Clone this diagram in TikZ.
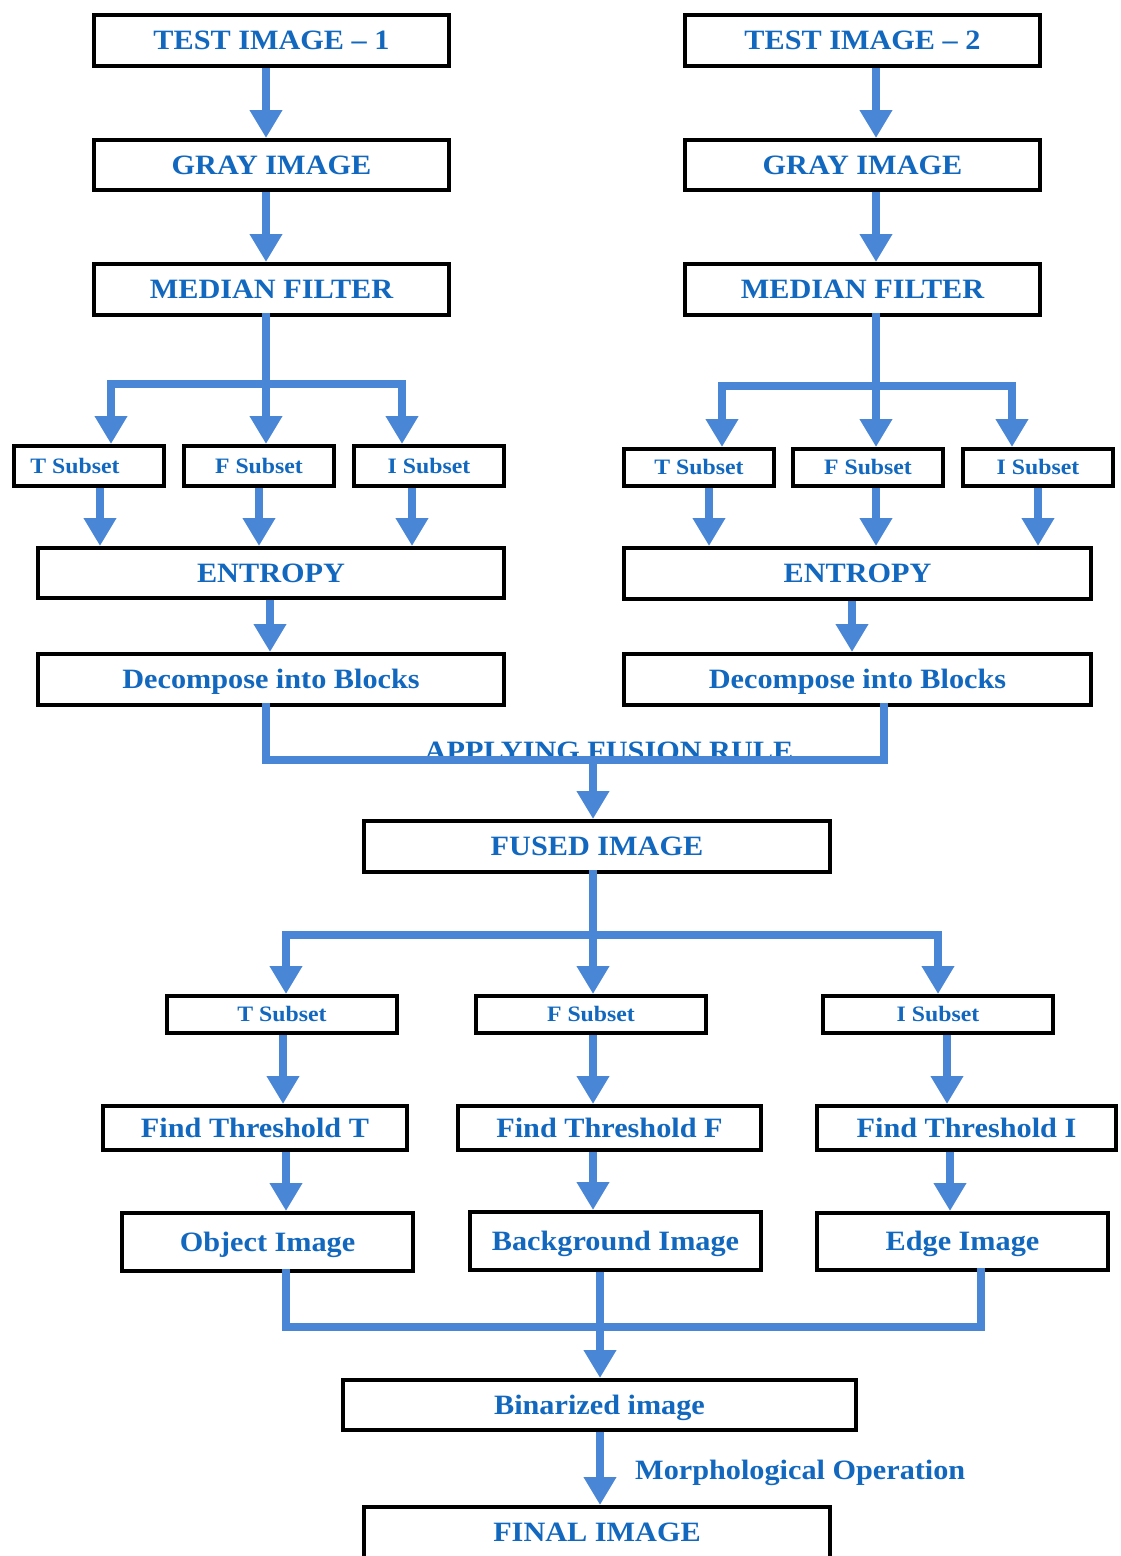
\documentclass[tikz,border=0pt]{standalone}
\usepackage{fontspec}
\setmainfont{Liberation Serif}[FakeStretch=1.08]
\usetikzlibrary{arrows.meta}
\definecolor{tblue}{RGB}{18,104,190}
\definecolor{ablue}{RGB}{74,134,214}
\tikzset{
  box/.style={draw=black, line width=4pt, fill=white, inner sep=0pt, text=tblue,
    text height=18.5pt, text depth=0pt,
    font=\fontsize{28}{30}\selectfont\bfseries},
  sbox/.style={box, text height=14.5pt, font=\fontsize{22}{24}\selectfont\bfseries},
  arr/.style={draw=ablue, line width=8pt, line join=miter, -{Triangle[width=31pt,length=28pt]}},
  bar/.style={draw=ablue, line width=8pt, line join=miter, line cap=rect},
  lbl/.style={text=tblue, inner sep=0pt, text height=18.5pt, text depth=0pt,
    font=\fontsize{28}{30}\selectfont\bfseries}
}
\begin{document}
\begin{tikzpicture}[x=1pt,y=-1pt]
\path[use as bounding box] (0,0) rectangle (1120,1556);
\clip (0,0) rectangle (1120,1556);
% left column
\node[box, minimum width=355, minimum height=51] (t1) at (271.5,40.5) {TEST IMAGE – 1};
\node[box, minimum width=355, minimum height=50] (g1) at (271.5,165) {GRAY IMAGE};
\node[box, minimum width=355, minimum height=51] (m1) at (271.5,289.5) {MEDIAN FILTER};
% right column
\node[box, minimum width=355, minimum height=51] (t2) at (862.5,40.5) {TEST IMAGE – 2};
\node[box, minimum width=355, minimum height=50] (g2) at (862.5,165) {GRAY IMAGE};
\node[box, minimum width=355, minimum height=51] (m2) at (862.5,289.5) {MEDIAN FILTER};
% left subsets
\node[sbox, minimum width=150, minimum height=40] (ls1) at (89,466) {\hspace*{-28pt}T Subset};
\node[sbox, minimum width=150, minimum height=40] (lf1) at (259,466) {F Subset};
\node[sbox, minimum width=150, minimum height=40] (li1) at (429,466) {I Subset};
% right subsets
\node[sbox, minimum width=150, minimum height=37] (rt1) at (699,467.5) {T Subset};
\node[sbox, minimum width=150, minimum height=37] (rf1) at (868,467.5) {F Subset};
\node[sbox, minimum width=150, minimum height=37] (ri1) at (1038,467.5) {I Subset};
% entropy & decompose
\node[box, minimum width=466, minimum height=50] (e1) at (271,573) {ENTROPY};
\node[box, minimum width=467, minimum height=51] (e2) at (857.5,573.5) {ENTROPY};
\node[box, minimum width=466, minimum height=51] (d1) at (271,679.5) {Decompose into Blocks};
\node[box, minimum width=467, minimum height=51] (d2) at (857.5,679.5) {Decompose into Blocks};
% fused
\node[box, minimum width=466, minimum height=51] (fu) at (597,846.5) {FUSED IMAGE};
% lower subsets
\node[sbox, minimum width=230, minimum height=37] (bt) at (282,1014.5) {T Subset};
\node[sbox, minimum width=230, minimum height=37] (bf) at (591,1014.5) {F Subset};
\node[sbox, minimum width=230, minimum height=37] (bi) at (938,1014.5) {I Subset};
% thresholds
\node[box, minimum width=304, minimum height=44] (fT) at (255,1128) {Find Threshold T};
\node[box, minimum width=303, minimum height=44] (fF) at (609.5,1128) {Find Threshold F};
\node[box, minimum width=299, minimum height=44] (fI) at (966.5,1128) {Find Threshold I};
% images
\node[box, minimum width=291, minimum height=58] (oT) at (267.5,1242) {Object Image};
\node[box, minimum width=291, minimum height=58] (oF) at (615.5,1241) {Background Image};
\node[box, minimum width=291, minimum height=57] (oI) at (962.5,1241.5) {Edge Image};
% binarized & final
\node[box, minimum width=513, minimum height=50] (bin) at (599.5,1405) {Binarized image};
\node[box, minimum width=466, minimum height=51] (fin) at (597,1532.5) {FINAL IMAGE};
% labels
\node[lbl] (fr) at (609,751) {APPLYING FUSION RULE};
\node[lbl, anchor=west] (mo) at (635,1470) {Morphological Operation};

% top arrows
\draw[arr] ([xshift=-5.5pt]t1.south) -- ([xshift=-5.5pt]g1.north);
\draw[arr] ([xshift=-5.5pt]g1.south) -- ([xshift=-5.5pt]m1.north);
\draw[arr] ([xshift=13.5pt]t2.south) -- ([xshift=13.5pt]g2.north);
\draw[arr] ([xshift=13.5pt]g2.south) -- ([xshift=13.5pt]m2.north);
% left branch
\coordinate (j1) at (266,384);
\draw[bar] ([xshift=-5.5pt]m1.south) -- (j1);
\draw[arr] (j1) -- ([xshift=7pt]lf1.north);
\draw[arr] (j1) -| ([xshift=22pt]ls1.north);
\draw[arr] (j1) -| ([xshift=-27pt]li1.north);
% right branch
\coordinate (j2) at (876,386);
\draw[bar] ([xshift=13.5pt]m2.south) -- (j2);
\draw[arr] (j2) -- ([xshift=8pt]rf1.north);
\draw[arr] (j2) -| ([xshift=23pt]rt1.north);
\draw[arr] (j2) -| ([xshift=-26pt]ri1.north);
% subsets to entropy
\draw[arr] ([xshift=11pt]ls1.south) -- ([xshift=11pt]ls1.south |- e1.north);
\draw[arr] (lf1.south) -- (lf1.south |- e1.north);
\draw[arr] ([xshift=-17pt]li1.south) -- ([xshift=-17pt]li1.south |- e1.north);
\draw[arr] ([xshift=10pt]rt1.south) -- ([xshift=10pt]rt1.south |- e2.north);
\draw[arr] ([xshift=8pt]rf1.south) -- ([xshift=8pt]rf1.south |- e2.north);
\draw[arr] (ri1.south) -- (ri1.south |- e2.north);
% entropy to decompose
\draw[arr] ([xshift=-1pt]e1.south) -- ([xshift=-1pt]d1.north);
\draw[arr] ([xshift=-5.5pt]e2.south) -- ([xshift=-5.5pt]d2.north);
% fusion
\coordinate (fj) at (593,760);
\draw[bar] ([xshift=-5pt]d1.south) |- ([xshift=26.5pt]d2.south |- fj) -- ([xshift=26.5pt]d2.south);
\draw[arr] (fj) -- ([xshift=-4pt]fu.north);
% fused branch
\coordinate (j3) at (593,935);
\draw[bar] ([xshift=-4pt]fu.south) -- (j3);
\draw[arr] (j3) -- ([xshift=2pt]bf.north);
\draw[arr] (j3) -| ([xshift=4pt]bt.north);
\draw[arr] (j3) -| (bi.north);
% subsets to thresholds
\draw[arr] ([xshift=1pt]bt.south) -- ([xshift=1pt]bt.south |- fT.north);
\draw[arr] ([xshift=2pt]bf.south) -- ([xshift=2pt]bf.south |- fF.north);
\draw[arr] ([xshift=9pt]bi.south) -- ([xshift=9pt]bi.south |- fI.north);
% thresholds to images
\draw[arr] ([xshift=31pt]fT.south) -- ([xshift=31pt]fT.south |- oT.north);
\draw[arr] ([xshift=-16.5pt]fF.south) -- ([xshift=-16.5pt]fF.south |- oF.north);
\draw[arr] ([xshift=-16.5pt]fI.south) -- ([xshift=-16.5pt]fI.south |- oI.north);
% images to binarized
\coordinate (j4) at (600,1327);
\draw[bar] ([xshift=18.5pt]oT.south) |- ([xshift=18.5pt]oI.south |- j4) -- ([xshift=18.5pt]oI.south);
\draw[arr] ([xshift=-15.5pt]oF.south) -- ([xshift=0.5pt]bin.north);
% binarized to final
\draw[arr] ([xshift=0.5pt]bin.south) -- ([xshift=3pt]fin.north);
\end{tikzpicture}
\end{document}
